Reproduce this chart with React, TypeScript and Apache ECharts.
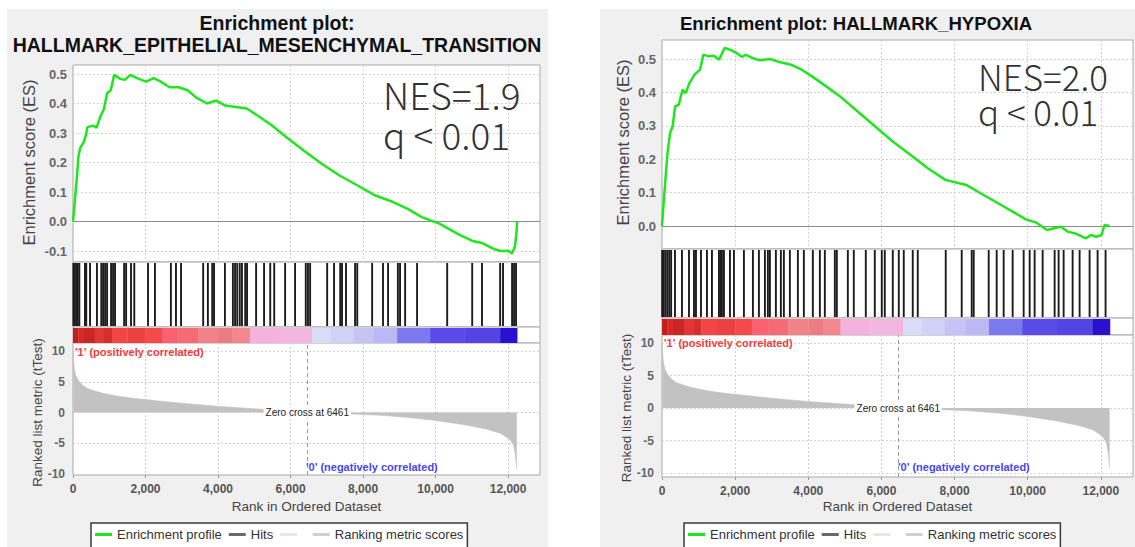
import React, { useEffect, useRef } from 'react';
import * as echarts from 'echarts';

// ---------------- data ----------------
const GENE_SETS = ['HALLMARK_EPITHELIAL_MESENCHYMAL_TRANSITION', 'HALLMARK_HYPOXIA'];
const NES_LABELS = ['NES=1.9', 'NES=2.0'];
const Q_LABELS = ['q < 0.01', 'q < 0.01'];
const ZERO_CROSS = 6461;
const RANK_MAX = 12880;
const RANK_STEP = 2000;

const ES_EMT: number[][] = [
  [0, 0], [50, 0.07], [100, 0.14], [150, 0.22], [200, 0.25], [300, 0.27], [350, 0.29], [400, 0.32],
  [550, 0.325], [650, 0.318], [750, 0.355], [850, 0.38], [940, 0.435], [1040, 0.445], [1135, 0.497],
  [1280, 0.485], [1430, 0.48], [1580, 0.497], [1780, 0.485], [2020, 0.474], [2220, 0.486], [2420, 0.474],
  [2660, 0.455], [2910, 0.455], [3160, 0.445], [3400, 0.42], [3700, 0.4], [3950, 0.41], [4200, 0.393],
  [4500, 0.388], [4790, 0.383], [5080, 0.36], [5480, 0.326], [5870, 0.287], [6370, 0.24], [6860, 0.196],
  [7350, 0.156], [7850, 0.122], [8340, 0.088], [8830, 0.066], [9230, 0.043], [9620, 0.015], [10120, -0.008],
  [10610, -0.042], [11000, -0.065], [11300, -0.074], [11600, -0.093], [11800, -0.1], [12000, -0.099],
  [12110, -0.108], [12190, -0.085], [12230, -0.04], [12250, 0],
];

const ES_HYPOXIA: number[][] = [
  [0, 0], [50, 0.078], [100, 0.148], [150, 0.218], [220, 0.278], [290, 0.298], [360, 0.358], [460, 0.363],
  [560, 0.408], [650, 0.398], [750, 0.428], [890, 0.453], [1040, 0.468], [1130, 0.513], [1280, 0.508],
  [1420, 0.51], [1560, 0.498], [1710, 0.533], [1850, 0.528], [2040, 0.518], [2190, 0.506], [2280, 0.513],
  [2470, 0.503], [2670, 0.496], [2950, 0.5], [3240, 0.49], [3530, 0.483], [3820, 0.468], [4100, 0.448],
  [4490, 0.418], [4870, 0.388], [5350, 0.343], [5830, 0.298], [6310, 0.253], [6790, 0.213], [7270, 0.173],
  [7750, 0.138], [8320, 0.123], [8710, 0.098], [9190, 0.068], [9670, 0.038], [9950, 0.02], [10240, 0.01],
  [10530, -0.012], [10720, -0.007], [10910, -0.002], [11100, -0.017], [11300, -0.022], [11590, -0.037],
  [11730, -0.027], [11870, -0.032], [12020, -0.027], [12100, 0.003], [12240, 0],
];

const HITS_EMT: number[] = [
  10, 50, 90, 130, 175, 330, 365, 470, 660, 780, 830, 885, 940, 1050, 1105, 1160, 1410, 1465, 1600, 1690,
  2070, 2260, 2700, 2840, 2980, 3590, 3720, 3840, 3890, 4190, 4410, 4470, 4530, 4600, 4660, 4750, 4800,
  5050, 5270, 5440, 5550, 5850, 6125, 6420, 6480, 6540, 7010, 7200, 7370, 7420, 7530, 7780, 7840, 8250,
  8550, 8690, 8960, 9020, 9160, 9490, 10320, 11010, 11280, 11780, 11860, 12110, 12165, 12220,
];

const HITS_HYPOXIA: number[] = [
  5, 50, 100, 150, 200, 250, 355, 546, 738, 874, 929, 1066, 1229, 1366, 1557, 1600, 1639, 1694, 1858,
  1967, 2240, 2486, 2650, 2814, 2896, 2951, 3114, 3251, 3333, 3497, 3716, 3879, 4125, 4317, 4453, 4726,
  4781, 5082, 5245, 5573, 5819, 6010, 6092, 6311, 6475, 6611, 6857, 6994, 7759, 8196, 8469, 8524, 8934,
  9152, 9343, 9589, 9890, 10054, 10190, 10409, 10737, 10846, 10983, 11229, 11420, 11693, 11912, 12130,
];

const METRIC: number[][] = [
  [0, 9.8], [15, 8.5], [40, 7.0], [80, 6.0], [150, 5.2], [250, 4.5], [400, 3.9], [600, 3.5], [850, 3.1],
  [1200, 2.7], [1600, 2.35], [2000, 2.1], [2500, 1.8], [3000, 1.5], [3500, 1.25], [4000, 1.0], [4500, 0.8],
  [5000, 0.6], [5500, 0.4], [6000, 0.2], [6461, 0], [7000, -0.12], [7700, -0.25], [8500, -0.45],
  [9400, -0.9], [10000, -1.3], [10800, -2.0], [11400, -2.7], [11800, -3.4], [12050, -4.4], [12150, -5.3],
  [12200, -6.8], [12240, -9.3],
];

const COLOR_EDGES: number[] = [
  0, 150, 300, 600, 850, 1076, 1500, 2000, 2455, 2900, 3449, 4000, 4400, 4883, 5700, 6594, 7100,
  7732, 8300, 8940, 9850, 10800, 11781, 12250,
];
const COLOR_FILLS: string[] = [
  '#c41f1f', '#d82a2a', '#c92626', '#e23636', '#d42e2e', '#f24646', '#ea4242', '#f44a4a', '#fb6170',
  '#f66a76', '#f2828a', '#ec7c84', '#f3888f', '#f5b2dc', '#f3b6de', '#dadaf9', '#d2d2f7', '#c7c3f5',
  '#bcb8f3', '#7c79ef', '#5a4ae7', '#5444e4', '#2a10cf',
];

const LEGEND_NAMES = ['Enrichment profile', 'Hits', ' ', 'Ranking metric scores'];

// ---------------- styling / layout ----------------
const FONT = '"Liberation Sans", Arial, sans-serif';
const NES_FONT = '"Noto Sans CJK JP", "Noto Sans", sans-serif';
const GREEN = '#1fe61f';
const AREA = '#c2c2c2';

const PANELS = [
  {
    px: 7, pw: 541, plotL: 73, plotW: 467,
    es: [65, 197], esData: [74, 177], esMin: -0.1,
    hits: [262, 65], bar: [327, 16], rk: [343, 132], rkData: [351, 123],
    esNameGap: 36, rkNameGap: 29, xNameGap: 24,
    titleLines: ['Enrichment plot:', GENE_SETS[0]], titleYs: [23, 45], titleX: 277, titleSize: 19.5,
    nes: { x: 383, y: 114, lh: 40, size: 37 },
    corr1: [75, 352], corr0: [306, 467], legendLeft: 91,
  },
  {
    px: 600, pw: 541, plotL: 662, plotW: 471,
    es: [40, 209], esData: [59, 167], esMin: 0,
    hits: [249, 69], bar: [318, 17], rk: [335, 142], rkData: [343, 130],
    esNameGap: 31, rkNameGap: 29, xNameGap: 22,
    titleLines: ['Enrichment plot: ' + GENE_SETS[1]], titleYs: [23], titleX: 856, titleSize: 18.6,
    nes: { x: 978, y: 93, lh: 35, size: 35 },
    corr1: [664, 343], corr0: [898, 467], legendLeft: 684,
  },
];

function text(x: number, y: number, t: string, o: any) {
  return {
    type: 'text', x, y, z: 50, silent: true,
    style: {
      text: t, fill: o.fill || '#000', fontSize: o.size, fontWeight: o.weight || 'normal',
      fontFamily: o.family || FONT, align: o.align || 'left', textAlign: o.align || 'left',
      verticalAlign: 'middle', textVerticalAlign: 'middle',
      lineHeight: o.lh,
    },
  };
}

function buildPanel(k: number, es: number[][], hits: number[]) {
  const p = PANELS[k];
  const b = k * 6;
  const g = (box: number[], show: boolean) => ({
    left: p.plotL, top: box[0], width: p.plotW, height: box[1], show,
    backgroundColor: '#ffffff', borderColor: '#a8a8a8', borderWidth: 1,
    containLabel: false, outerBoundsMode: 'none',
  });
  const grids = [g(p.es, true), g(p.esData, false), g(p.hits, true), g(p.bar, true), g(p.rk, true), g(p.rkData, false)];
  const split = { show: true, lineStyle: { color: '#d2d2d2', type: [2, 2], width: 1 } };

  const xAxes = [0, 1, 2, 3, 4, 5].map((j) => {
    const base: any = {
      type: 'value', gridIndex: b + j, min: 0, max: RANK_MAX, interval: RANK_STEP,
      show: j === 0 || j === 4,
      axisLine: { show: false }, axisTick: { show: false }, axisLabel: { show: false },
      splitLine: j === 0 || j === 4 ? split : { show: false },
    };
    if (j === 4) {
      base.axisTick = { show: true, length: 3, lineStyle: { color: '#999' } };
      base.axisLabel = {
        show: true, margin: 8, color: '#555', fontWeight: 'bold', fontSize: 12, fontFamily: FONT,
        showMaxLabel: false, formatter: (v: number) => v.toLocaleString('en-US'),
      };
      base.name = 'Rank in Ordered Dataset';
      base.nameLocation = 'middle';
      base.nameGap = p.xNameGap;
      base.nameMoveOverlap = false;
      base.nameTextStyle = { fontSize: 13.5, color: '#444', fontFamily: FONT };
    }
    return base;
  });

  const hidden = (j: number) => ({ type: 'value', gridIndex: b + j, min: 0, max: 1, show: false });
  const yAxes = [
    hidden(0),
    {
      type: 'value', gridIndex: b + 1, min: p.esMin, max: 0.5, interval: 0.1,
      axisLine: { show: false }, axisTick: { show: false },
      axisLabel: { margin: 6, color: '#666', fontWeight: 'bold', fontSize: 13, fontFamily: FONT, formatter: (v: number) => v.toFixed(1) },
      splitLine: split,
      name: 'Enrichment score (ES)', nameLocation: 'middle', nameGap: p.esNameGap, nameMoveOverlap: false,
      nameTextStyle: { fontSize: 16.5, color: '#444', fontFamily: FONT },
    },
    hidden(2), hidden(3), hidden(4),
    {
      type: 'value', gridIndex: b + 5, min: -10, max: 10, interval: 5,
      axisLine: { show: false }, axisTick: { show: false },
      axisLabel: { margin: 8, color: '#666', fontWeight: 'bold', fontSize: 12, fontFamily: FONT },
      splitLine: split,
      name: 'Ranked list metric (tTest)', nameLocation: 'middle', nameGap: p.rkNameGap, nameMoveOverlap: false,
      nameTextStyle: { fontSize: 13.5, color: '#444', fontFamily: FONT },
    },
  ];

  const series: any[] = [
    {
      type: 'line', name: 'Enrichment profile', xAxisIndex: b + 1, yAxisIndex: b + 1, data: es,
      symbol: 'none', showSymbol: false, clip: false, silent: true, z: 5,
      lineStyle: { color: GREEN, width: 2.5 }, itemStyle: { color: GREEN },
      markLine: {
        silent: true, symbol: 'none', label: { show: false },
        lineStyle: { color: '#8c8c8c', type: 'solid', width: 1 }, data: [{ yAxis: 0 }],
      },
    },
    {
      type: 'custom', name: 'Hits', xAxisIndex: b + 2, yAxisIndex: b + 2, silent: true,
      itemStyle: { color: '#555' },
      data: hits.map((r) => [r, 0.5]),
      renderItem: (params: any, api: any) => {
        const x = api.coord([api.value(0), 0.5])[0];
        const cs = params.coordSys;
        return {
          type: 'line',
          shape: { x1: x, y1: cs.y + 1, x2: x, y2: cs.y + cs.height - 1 },
          style: { stroke: '#1c1c1c', lineWidth: 1.9 },
        };
      },
    },
    {
      type: 'custom', name: 'colorbar', xAxisIndex: b + 3, yAxisIndex: b + 3, silent: true,
      data: COLOR_FILLS.map((c, i) => [COLOR_EDGES[i], COLOR_EDGES[i + 1], i]),
      renderItem: (params: any, api: any) => {
        const x0 = api.coord([api.value(0), 0.5])[0];
        const x1 = api.coord([api.value(1), 0.5])[0];
        const cs = params.coordSys;
        return {
          type: 'rect',
          shape: { x: x0, y: cs.y + 1, width: x1 - x0 + 0.3, height: cs.height - 1 },
          style: { fill: COLOR_FILLS[api.value(2)] },
        };
      },
    },
    {
      type: 'line', name: 'zero-cross', xAxisIndex: b + 4, yAxisIndex: b + 4, silent: true,
      data: [[ZERO_CROSS, 0.5]], symbol: 'none', lineStyle: { opacity: 0 },
      markLine: {
        silent: true, symbol: 'none', label: { show: false },
        lineStyle: { color: '#9a9a9a', type: [4, 3], width: 1 }, data: [{ xAxis: ZERO_CROSS }],
      },
    },
    {
      type: 'line', name: 'Ranking metric scores', xAxisIndex: b + 5, yAxisIndex: b + 5, data: METRIC,
      symbol: 'none', silent: true, z: 3,
      lineStyle: { color: AREA, width: 0.6 }, itemStyle: { color: AREA },
      areaStyle: { color: AREA, opacity: 1, origin: 0 },
      markPoint: {
        silent: true, symbol: 'circle', symbolSize: 1, itemStyle: { color: 'rgba(0,0,0,0)' },
        label: {
          show: true, position: 'inside', formatter: 'Zero cross at ' + ZERO_CROSS,
          color: '#222', fontSize: 10, fontFamily: FONT, backgroundColor: '#ffffff', padding: [1, 2],
        },
        data: [{ coord: [ZERO_CROSS, 0] }],
      },
    },
  ];
  if (k === 0) {
    series.push({
      type: 'line', name: ' ', xAxisIndex: b, yAxisIndex: b, data: [], symbol: 'none',
      lineStyle: { color: '#e3e3e3', width: 2 }, itemStyle: { color: '#e3e3e3' },
    });
  }

  const graphic: any[] = [
    { type: 'rect', z: -10, silent: true, shape: { x: p.px, y: 9, width: p.pw, height: 545 }, style: { fill: '#f0f0f0' } },
  ];
  p.titleLines.forEach((t, i) => {
    graphic.push(text(p.titleX, p.titleYs[i], t, { size: p.titleSize, weight: 'bold', align: 'center', fill: '#111' }));
  });
  graphic.push(text(p.nes.x, p.nes.y, NES_LABELS[k] + '\n' + Q_LABELS[k], {
    size: p.nes.size, weight: 300, family: NES_FONT, fill: '#333', lh: p.nes.lh,
  }));
  graphic.push(text(p.corr1[0], p.corr1[1], "'1' (positively correlated)", { size: 11, weight: 'bold', fill: '#f23c3c' }));
  graphic.push(text(p.corr0[0], p.corr0[1], "'0' (negatively correlated)", { size: 11, weight: 'bold', fill: '#4646f5' }));

  const legendItems = [
    { name: LEGEND_NAMES[0], icon: 'rect', itemStyle: { color: GREEN, borderWidth: 0 } },
    { name: LEGEND_NAMES[1], icon: 'rect', itemStyle: { color: '#6a6a6a', borderWidth: 0 } },
    { name: LEGEND_NAMES[2], icon: 'rect', itemStyle: { color: '#e6e6e6', borderWidth: 0 } },
    { name: LEGEND_NAMES[3], icon: 'rect', itemStyle: { color: '#d0d0d0', borderWidth: 0 } },
  ];
  const legend = {
    left: p.legendLeft, top: 523, orient: 'horizontal', padding: [5, 4, 8, 4], itemGap: 7,
    itemWidth: 17, itemHeight: 3, backgroundColor: '#ffffff', borderColor: '#3a3a3a', borderWidth: 1.5,
    selectedMode: false, textStyle: { fontSize: 13, color: '#333', fontFamily: FONT },
    data: legendItems,
  };

  return { grids, xAxes, yAxes, series, graphic, legend };
}

function buildOption() {
  const a = buildPanel(0, ES_EMT, HITS_EMT);
  const c = buildPanel(1, ES_HYPOXIA, HITS_HYPOXIA);
  return {
    animation: false,
    backgroundColor: '#ffffff',
    textStyle: { fontFamily: FONT },
    tooltip: { show: false },
    grid: [...a.grids, ...c.grids],
    xAxis: [...a.xAxes, ...c.xAxes],
    yAxis: [...a.yAxes, ...c.yAxes],
    series: [...a.series, ...c.series],
    legend: [a.legend, c.legend],
    graphic: [...a.graphic, ...c.graphic],
  };
}

export default function App() {
  const ref = useRef<HTMLDivElement>(null);
  useEffect(() => {
    document.body.style.margin = '0';
    const chart = echarts.init(ref.current!, null, { renderer: 'svg' });
    chart.setOption(buildOption() as any);
    return () => chart.dispose();
  }, []);
  return (
    <div style={{ position: 'fixed', left: 0, top: 0, width: 1135, height: 547 }}>
      <div ref={ref} style={{ width: 1135, height: 547 }} />
    </div>
  );
}
